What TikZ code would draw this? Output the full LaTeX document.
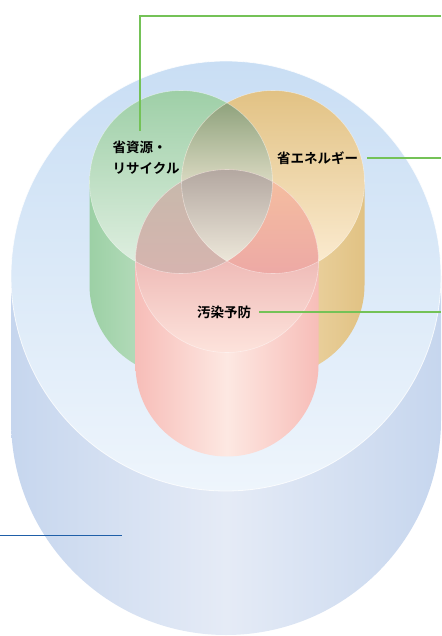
\documentclass[tikz,border=0pt]{standalone}
\usepackage{fontspec}
\newfontfamily\jp{Noto Sans CJK JP Bold}
\definecolor{bluebodyedge}{HTML}{C6D6EE}
\definecolor{bluebodymid}{HTML}{E5EBF6}
\definecolor{bluecaptop}{HTML}{C9DEF4}
\definecolor{bluecapbot}{HTML}{EEF5FC}
\definecolor{gcaptop}{HTML}{9ECFA7}
\definecolor{gcapbot}{HTML}{E2F0E3}
\definecolor{gbodyl}{HTML}{9CD0A5}
\definecolor{gbodyr}{HTML}{F0F7EF}
\definecolor{ocaptop}{HTML}{E2C284}
\definecolor{ocapbot}{HTML}{FCEDD4}
\definecolor{obodyl}{HTML}{FDF1DA}
\definecolor{obodyr}{HTML}{E1C283}
\definecolor{pcaptop}{HTML}{EFBCB8}
\definecolor{pcapbot}{HTML}{FDE3DC}
\definecolor{pbodyedge}{HTML}{F7BDB8}
\definecolor{pbodymid}{HTML}{FDE8E2}
\definecolor{gotop}{HTML}{8DA17B}
\definecolor{gomid}{HTML}{E2DFC9}
\definecolor{gobot}{HTML}{EFEBDC}
\definecolor{gptop}{HTML}{C6B9AB}
\definecolor{gpbot}{HTML}{D6B4AF}
\definecolor{optop}{HTML}{F5BF9F}
\definecolor{opbot}{HTML}{EDA9A5}
\definecolor{goptop}{HTML}{B4A8A1}
\definecolor{gopbot}{HTML}{EDE8DA}
\definecolor{leadgreen}{HTML}{74C257}
\definecolor{leadblue}{HTML}{1F5FA8}
\tikzset{
  label/.style={font=\jp\fontsize{13.5}{21}\selectfont, inner sep=0pt, align=left, anchor=west, text=black},
  leadg/.style={draw=leadgreen, line width=1.1pt},
  leadb/.style={draw=leadblue, line width=1pt},
  rim/.style={draw=white, draw opacity=0.45, line width=0.6pt}
}
\begin{document}
\begin{tikzpicture}[x=1pt,y=-1pt]
\useasboundingbox (0,0) rectangle (441,636);
% blue cylinder
\coordinate (Bc) at (226,276);
\shade[left color=bluebodyedge, right color=bluebodyedge, middle color=bluebodymid]
  (11,276) -- (11,420) arc[start angle=180, end angle=360, radius=215pt] -- (441,276) -- cycle;
\shade[top color=bluecaptop, bottom color=bluecapbot] (Bc) circle[radius=215pt];
\draw[white, line width=0.8pt, draw opacity=0.8] (Bc) circle[radius=215pt];
% centres
\coordinate (Gc) at (181,182);
\coordinate (Oc) at (273,182);
\coordinate (Pc) at (227,261);
% bodies
\shade[left color=gbodyl, right color=gbodyr]
  (89.5,182) -- (89.5,285) arc[start angle=180, end angle=360, radius=91.5pt] -- (272.5,182) -- cycle;
\shade[left color=obodyl, right color=obodyr]
  (181.5,182) -- (181.5,285) arc[start angle=180, end angle=360, radius=91.5pt] -- (364.5,182) -- cycle;
\shade[left color=pbodyedge, right color=pbodyedge, middle color=pbodymid]
  (135.5,261) -- (135.5,365) arc[start angle=180, end angle=360, radius=91.5pt] -- (318.5,261) -- cycle;
% caps
\shade[top color=gcaptop, bottom color=gcapbot] (Gc) circle[radius=91.5pt];
\shade[top color=ocaptop, bottom color=ocapbot] (Oc) circle[radius=91.5pt];
\begin{scope}
  \clip (Pc) circle[radius=91.5pt];
  \fill[pcaptop] (120,160) rectangle (340,262);
  \shade[top color=pcaptop, bottom color=pcapbot] (120,262) rectangle (340,353);
\end{scope}
% G and O
\begin{scope}
  \clip (Gc) circle[radius=91.5pt];
  \clip (Oc) circle[radius=91.5pt];
  \shade[top color=gotop, bottom color=gomid] (150,100) rectangle (300,192);
  \shade[top color=gomid, bottom color=gobot] (150,192) rectangle (300,275);
\end{scope}
% G and P
\begin{scope}
  \clip (Gc) circle[radius=91.5pt];
  \clip (Pc) circle[radius=91.5pt];
  \shade[top color=gptop, bottom color=gpbot] (100,170) rectangle (300,274);
\end{scope}
% O and P
\begin{scope}
  \clip (Oc) circle[radius=91.5pt];
  \clip (Pc) circle[radius=91.5pt];
  \shade[top color=optop, bottom color=opbot] (150,170) rectangle (340,274);
\end{scope}
% G, O and P
\begin{scope}
  \clip (Gc) circle[radius=91.5pt];
  \clip (Oc) circle[radius=91.5pt];
  \clip (Pc) circle[radius=91.5pt];
  \shade[top color=goptop, bottom color=gopbot] (150,170) rectangle (300,263);
\end{scope}
\draw[rim] (Gc) circle[radius=91.5pt] (Oc) circle[radius=91.5pt] (Pc) circle[radius=91.5pt];
% labels
\node[label] (res) at (112.5,157.5) {省資源・\\リサイクル};
\node[label] (ene) at (277,158) {省エネルギー};
\node[label] (pol) at (197,312) {汚染予防};
% leaders
\coordinate (l1a) at (140,16);
\coordinate (l1b) at (441,16);
\coordinate (l2) at (441,157);
\coordinate (l3) at (441,312);
\coordinate (l4a) at (0,535);
\coordinate (l4b) at (122,535);
\draw[leadg] ([yshift=10pt]res.north -| l1a) -- (l1a) -- (l1b);
\draw[leadg] ([xshift=9pt]ene.east) -- (l2 |- ene.east);
\draw[leadg] ([xshift=8pt]pol.east) -- (l3 |- pol.east);
\draw[leadb] (l4a) -- (l4b);
\end{tikzpicture}
\end{document}
